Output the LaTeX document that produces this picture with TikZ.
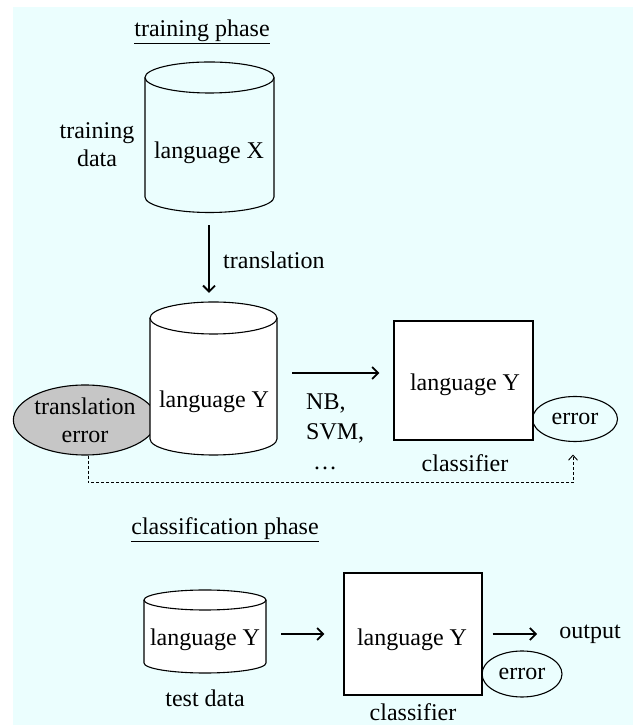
\documentclass[tikz,border=0pt]{standalone}
\usepackage{fontspec}
\setmainfont{Liberation Serif}
\usetikzlibrary{arrows.meta,calc,shapes.geometric}
\definecolor{panel}{RGB}{235,254,254}
\definecolor{shade}{RGB}{198,198,198}

% drum outline: centre x, half width, top-rim y, bottom-rim y, rim half height, fill
\newcommand\drawdrum[6]{%
  \draw[outline,fill=#6] (#1-#2,#3) -- (#1-#2,#4)
     arc[start angle=180,end angle=360,x radius=#2,y radius=#5] -- (#1+#2,#3);
  \draw[outline,fill=#6] (#1,#3) ellipse[x radius=#2,y radius=#5];
}

\begin{document}
\begin{tikzpicture}[x=1pt,y=1pt,
  every node/.style={font=\fontsize{24}{28}\selectfont},
  outline/.style={line width=1.1pt},
  txt/.style={inner sep=0pt, align=center},
  extent/.style={inner sep=0pt},
  flow/.style={line width=1.8pt, -{Straight Barb[length=6pt,width=12pt]}},
  feedback/.style={line width=0.9pt, dash pattern=on 3pt off 2pt,
                   -{Straight Barb[length=5pt,width=9pt]}},
  errbubble/.style={ellipse, draw, outline, inner sep=0pt, align=center}]

\useasboundingbox (0,0) rectangle (633,725);
\fill[panel] (13,0) rectangle (633,717.5);

% ---------------- training phase ----------------
\node[txt] (phase1) at (202,693) {\underline{training phase}};

% source corpus
\drawdrum{209.5}{64.5}{647.5}{528}{15.5}{panel}
\node[extent, minimum width=129pt, minimum height=150pt] (drumX) at (209.5,587.5) {};
\node[txt] (lblX) at (209,572) {language X};
\node[txt] (tdata) at (97,580) {training\\data};

% translated corpus with its error bubble behind it
\node[errbubble, fill=shade, minimum width=140pt, minimum height=70pt] (terr) at (85,305) {translation\\error};
\drawdrum{213.5}{63.5}{407}{286}{16}{white}
\node[extent, minimum width=127pt, minimum height=153pt] (drumY) at (213.5,346.5) {};
\node[txt] (lblY) at (214,323) {language Y};

\draw[flow] ([xshift=-0.5pt,yshift=-12.5pt]drumX.south) -- ([xshift=-0.5pt,yshift=9pt]drumX.south |- drumY.north);
\node[txt, anchor=west] (trlbl) at (223,465) {translation};

% trained classifier
\node[errbubble, minimum width=85pt, minimum height=45pt] (err1) at (575,306) {error};
\node[draw, outline, fill=white, inner sep=0pt, minimum width=139pt, minimum height=119pt] (box1) at (463.5,344.5) {};
\node[txt] (box1txt) at (465,340) {language Y};
\node[txt] (clf1) at (465,262) {classifier};

\draw[flow] ($(drumY.east)+(15,5.5)$) -- ($(drumY.east -| box1.west)+(-14,5.5)$);
\node[txt, anchor=north west, align=left, font=\fontsize{24}{30}\selectfont] (algos) at (306,331) {NB,\\SVM,\\\hspace*{7pt}…};

\draw[feedback] ([xshift=3pt]terr.south) |- ($(err1.south)+(-2,-40.5)$) -- ($(err1.south)+(-2,-12.5)$);

% ---------------- classification phase ----------------
\node[txt] (phase2) at (225,195) {\underline{classification phase}};

\drawdrum{205}{61}{125}{62}{10}{white}
\node[extent, minimum width=122pt, minimum height=83pt] (drumT) at (205,93.5) {};
\node[txt] (lblT) at (205,85) {language Y};
\node[txt] (test) at (205,27) {test data};

\node[errbubble, minimum width=80pt, minimum height=46pt] (err2) at (522,51) {error};
\node[draw, outline, fill=white, inner sep=0pt, minimum width=138pt, minimum height=122pt] (box2) at (413,91) {};
\node[txt] (box2txt) at (412,85) {language Y};
\node[txt] (clf2) at (413,13) {classifier};
\node[txt] (out) at (590,91) {output};

\draw[flow] ($(drumT.east |- box2.center)+(15,0)$) -- ($(box2.west)+(-19,0)$);
\draw[flow] ($(box2.east)+(10,0)$) -- ($(out.west)+(-22,0)$);

\end{tikzpicture}
\end{document}
